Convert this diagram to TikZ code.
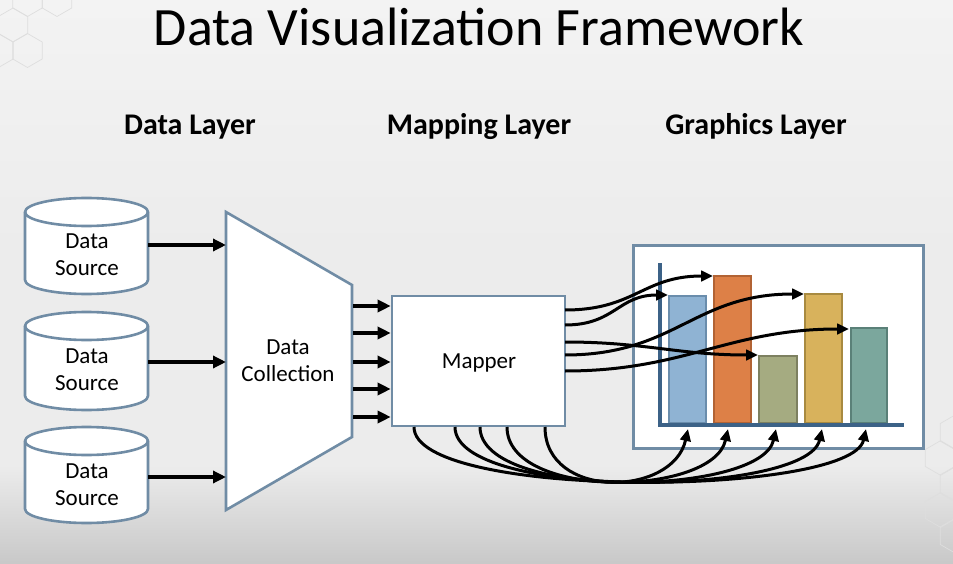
\documentclass[tikz,border=0pt]{standalone}
\usepackage{fontspec}
\setmainfont{Carlito}
\usetikzlibrary{arrows.meta}
\definecolor{edgec}{RGB}{112,140,165}
\definecolor{axisc}{RGB}{60,98,135}
\definecolor{bgc}{RGB}{236,236,236}
\definecolor{bgtop}{RGB}{243,243,243}
\definecolor{bgbot}{RGB}{200,200,200}
\definecolor{hexc}{RGB}{222,222,222}
\definecolor{barA}{RGB}{143,179,211}\definecolor{barAd}{RGB}{106,141,172}
\definecolor{barB}{RGB}{221,128,71}\definecolor{barBd}{RGB}{178,99,52}
\definecolor{barC}{RGB}{165,171,129}\definecolor{barCd}{RGB}{125,128,96}
\definecolor{barD}{RGB}{216,178,92}\definecolor{barDd}{RGB}{168,138,64}
\definecolor{barE}{RGB}{123,167,157}\definecolor{barEd}{RGB}{90,128,120}
\newcommand\dbcyl[3]{%
  \fill[white] (#1-61.5,#2) -- (#1-61.5,#3) arc[start angle=180,end angle=0,x radius=61.5,y radius=14] -- (#1+61.5,#2) arc[start angle=0,end angle=-180,x radius=61.5,y radius=14] -- cycle;
  \draw[cylline] (#1-61.5,#2) -- (#1-61.5,#3) arc[start angle=180,end angle=0,x radius=61.5,y radius=14] -- (#1+61.5,#2) arc[start angle=0,end angle=-180,x radius=61.5,y radius=14] -- cycle;
  \draw[cylline] (#1-61.5,#2) arc[start angle=180,end angle=0,x radius=61.5,y radius=14];
}
\newcommand\hexat[2]{%
  \draw[hexline] (#1,#2-17) -- (#1+14.7,#2-8.5) -- (#1+14.7,#2+8.5) -- (#1,#2+17) -- (#1-14.7,#2+8.5) -- (#1-14.7,#2-8.5) -- cycle;
}
\begin{document}
\begin{tikzpicture}[x=1pt,y=-1pt,
  cylline/.style={draw=edgec,line width=2.6pt,line join=round},
  hexline/.style={draw=hexc,line width=0.7pt},
  txt/.style={font=\fontsize{23}{27}\selectfont,align=center,inner sep=0pt},
  layer/.style={font=\fontsize{30}{34}\selectfont\bfseries,anchor=base,inner sep=0pt},
  arr/.style={line width=3.4pt,-{Triangle[length=13pt,width=12pt]}},
  carr/.style={line width=3pt,-{Triangle[length=12pt,width=10.5pt]}},
  barsty/.style={line width=2.8pt}]
\useasboundingbox (0,0) rectangle (953,564);
\fill[bgc] (0,0) rectangle (953,564);
\shade[top color=bgtop,bottom color=bgc] (0,0) rectangle (953,250);
\shade[top color=bgc,bottom color=bgbot] (0,465) rectangle (953,564.5);

% faint honeycomb in the corners
\begin{scope}
\clip (0,0) rectangle (953,564);
\hexat{27.5}{-0.5}\hexat{57}{-0.5}\hexat{13}{25}\hexat{-1.5}{50.5}\hexat{27.5}{50.5}
\hexat{940}{458}\hexat{940}{510}\hexat{955}{432}\hexat{955}{484}\hexat{955}{536}
\end{scope}

% titles
\node[font=\fontsize{54}{60}\selectfont,anchor=base,inner sep=0pt] (title) at (479,46) {Data Visualization Framework};
\node[layer] (l1) at (190,135) {Data Layer};
\node[layer] (l2) at (479,135) {Mapping Layer};
\node[layer] (l3) at (756,135) {Graphics Layer};

% data sources
\dbcyl{86.5}{212}{280}
\dbcyl{86.5}{326}{396}
\dbcyl{86.5}{441}{509}
\node[txt] (ds1) at (87,254.5) {Data\\Source};
\node[txt] (ds2) at (87,370) {Data\\Source};
\node[txt] (ds3) at (87,485) {Data\\Source};
\coordinate (ds1e) at (148,245);
\coordinate (ds2e) at (148,362);
\coordinate (ds3e) at (148,477);

% data collection
\draw[draw=edgec,fill=white,line width=2.6pt,line join=miter] (226,212) -- (352,285) -- (352,437) -- (226,510) -- cycle;
\node[txt] (dc) at (288,361) {Data\\Collection};
\coordinate (dc1) at (226,245);
\coordinate (dc2) at (226,362);
\coordinate (dc3) at (226,477);
\draw[arr] (ds1e) -- (dc1);
\draw[arr] (ds2e) -- (dc2);
\draw[arr] (ds3e) -- (dc3);

% mapper
\node[draw=edgec,fill=white,line width=2.6pt,minimum width=173pt,minimum height=130pt] (map) at (478.5,361) {};
\node[txt] (maplbl) at (479,362.7) {Mapper};
\foreach \i/\yy in {1/306,2/333,3/362,4/389,5/417}{
  \coordinate (t\i) at (353,\yy);
  \draw[arr] (t\i) -- (t\i -| map.west);
}

% chart
\draw[draw=edgec,fill=white,line width=3pt] (633,245) rectangle (923,448);
\draw[barsty,fill=barA,draw=barAd] (669,296) rectangle (706,423);
\draw[barsty,fill=barB,draw=barBd] (714,276) rectangle (751,423);
\draw[barsty,fill=barC,draw=barCd] (759,356) rectangle (797,423);
\draw[barsty,fill=barD,draw=barDd] (805,294) rectangle (842,423);
\draw[barsty,fill=barE,draw=barEd] (851,328) rectangle (887,423);
\draw[axisc,line width=4.8pt] (660,263) -- (660,425) -- (904,425);

% mapper -> bars (top)
\coordinate (r1) at (565,310);
\coordinate (r2) at (565,325);
\coordinate (r3) at (565,342);
\coordinate (r4) at (565,355);
\coordinate (r5) at (565,371);
\coordinate (g1) at (713,276);
\coordinate (g2) at (668,295);
\coordinate (g3) at (758,355);
\coordinate (g4) at (804,294);
\coordinate (g5) at (849,329);
\draw[carr] (r1) .. controls +(70,0) and +(-70,0) .. (g1);
\draw[carr] (r2) .. controls +(50,0) and +(-50,0) .. (g2);
\draw[carr] (r3) .. controls +(80,0) and +(-80,0) .. (g3);
\draw[carr] (r4) .. controls +(110,0) and +(-110,0) .. (g4);
\draw[carr] (r5) .. controls +(120,0) and +(-120,0) .. (g5);

% mapper -> bars (bottom)
\foreach \i/\sx/\ex in {1/414/866,2/455/822,3/480/776,4/507/728,5/545/688}{
  \coordinate (b\i) at (\sx,427);
  \coordinate (e\i) at (\ex,429);
  \draw[carr] (b\i) .. controls (\sx,500) and (\ex-15,497) .. (e\i);
}
\end{tikzpicture}
\end{document}
